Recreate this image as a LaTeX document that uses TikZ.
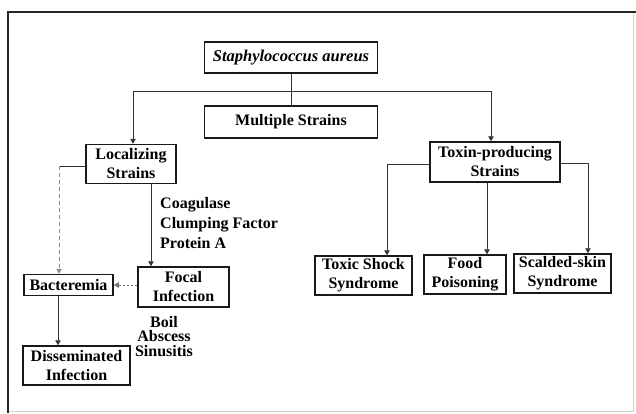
\documentclass[tikz,border=0pt]{standalone}
\usepackage{fontspec}
\setmainfont{Liberation Serif}
\usetikzlibrary{arrows.meta,calc}
\begin{document}
\begin{tikzpicture}[x=1pt,y=-1pt,
  box/.style={draw=black!90, line width=1.5pt, align=center, inner sep=0pt,
    font=\bfseries\fontsize{16}{19}\selectfont},
  lbl/.style={inner sep=0pt, font=\bfseries\fontsize{16}{20}\selectfont},
  conn/.style={line width=0.9pt, black!80},
  arr/.style={conn, -{Triangle[width=5.5pt,length=5pt]}},
  dotarr/.style={arr, black!55, dash pattern=on 2pt off 2pt},
  dasharr/.style={arr, black!45, dash pattern=on 4pt off 3pt}
]
\useasboundingbox (0,0) rectangle (636,413);
% frame
\draw[gray!35, line width=1pt] (633,12) -- (633,411) -- (8,411);
\draw[black!85, line width=1.8pt] (8,413) -- (8,12) -- (636,12);

% nodes
\node[box, minimum width=173pt, minimum height=31pt, font=\bfseries\itshape\fontsize{16.5}{19}\selectfont] (staph) at (291,57.5) {Staphylococcus aureus};
\node[box, minimum width=173pt, minimum height=32pt] (multi) at (291,122) {Multiple Strains};
\node[box, minimum width=90pt, minimum height=39pt] (loc) at (131,164) {Localizing\\Strains};
\node[box, minimum width=130pt, minimum height=40pt] (tox) at (495,162) {Toxin-producing\\Strains};
\node[box, minimum width=97pt, minimum height=39pt] (tss) at (363.5,275.5) {Toxic Shock\\Syndrome};
\node[box, minimum width=82pt, minimum height=39pt] (food) at (465,274.5) {Food\\Poisoning};
\node[box, minimum width=97pt, minimum height=39pt] (ssss) at (562.5,273.5) {Scalded-skin\\Syndrome};
\node[box, minimum width=89pt, minimum height=21pt] (bact) at (68.5,285) {Bacteremia};
\node[box, minimum width=91pt, minimum height=40pt] (focal) at (183.5,287) {Focal\\Infection};
\node[box, minimum width=107pt, minimum height=39pt] (diss) at (76.5,365.5) {Disseminated\\Infection};

% labels
\node[lbl, align=left, anchor=west] (fac) at (160,223) {Coagulase\\Clumping Factor\\Protein A};
\node[lbl, align=center, font=\bfseries\fontsize{16}{14.5}\selectfont] (sites) at (164,336.5) {Boil\\Abscess\\Sinusitis};

% connectors
\coordinate (busL) at (133,91);
\coordinate (busR) at (491,91);
\draw[conn] (staph.south) -- (multi.north);
\draw[conn] (busL) -- (busR);
\draw[arr] (busL) -- (busL |- loc.north);
\draw[arr] (busR) -- (busR |- tox.north);

\coordinate (lk) at (59,166);
\draw[conn] (loc.west |- lk) -- (lk);
\draw[dasharr] (lk) -- (lk |- bact.north);
\draw[arr] ([xshift=20pt]loc.south) -- ([xshift=20pt]loc.south |- focal.north);
\draw[dotarr] (focal.west |- 0,285) -- (bact.east |- 0,285);
\draw[arr] ([xshift=-10.5pt]bact.south) -- ([xshift=-10.5pt]bact.south |- diss.north);

\coordinate (tl) at (387,164);
\coordinate (tr) at (588,163);
\draw[arr] (tox.west |- tl) -- (tl) -- (tl |- tss.north);
\draw[arr] ([xshift=-8pt]tox.south) -- ([xshift=-8pt]tox.south |- food.north);
\draw[arr] (tox.east |- tr) -- (tr) -- (tr |- ssss.north);
\end{tikzpicture}
\end{document}
